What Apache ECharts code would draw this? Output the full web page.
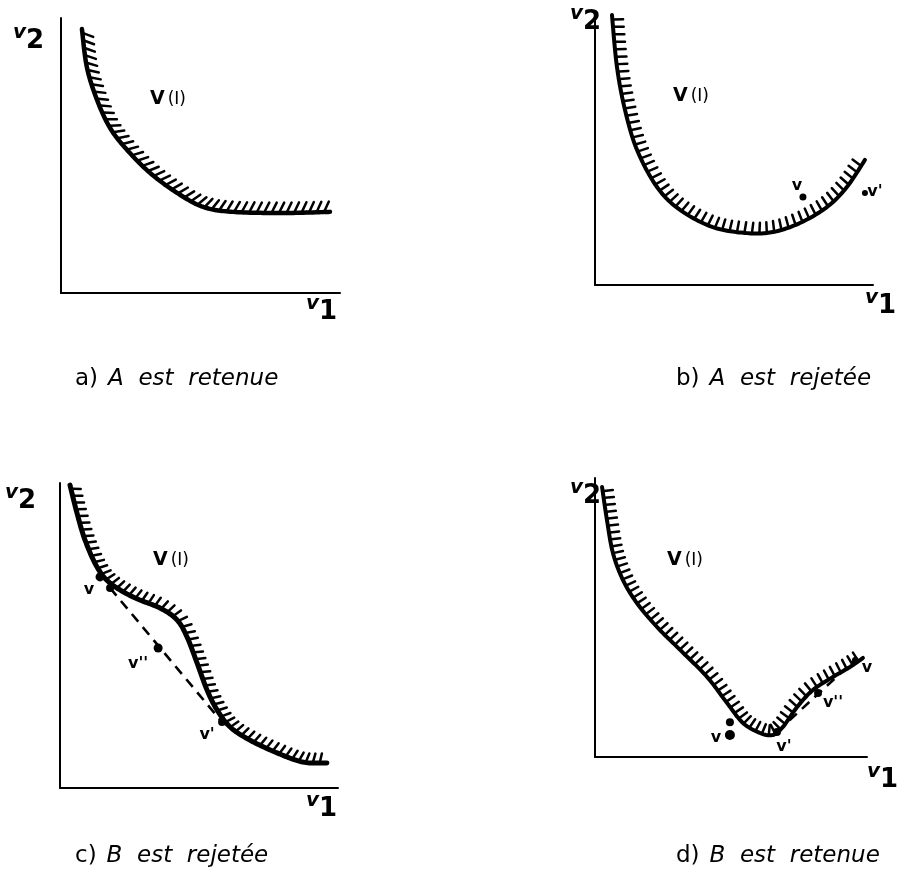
<!DOCTYPE html>
<html><head><meta charset="utf-8">
<script src="https://cdn.jsdelivr.net/npm/echarts@6/dist/echarts.min.js"></script>
<style>html,body{margin:0;padding:0;background:#fff}#c{width:898px;height:884px}</style>
</head><body><div id="c"></div><script>
// ---- data (axis units 0..100 on each panel) ----
const curveA = [[7.5,96],[9.3,82],[13,70],[17.6,60],[23.7,52],[32,43.6],[41.6,36.4],[51,31.3],[61.6,29.5],[79.6,29.1],[96.4,29.5]];
const curveB = [[6.1,98.9],[7.9,79.9],[10.8,64.1],[15.1,49.5],[22.3,35.9],[30.6,27.5],[42.4,21.2],[54.7,19.0],[64,19.4],[73.7,22.7],[83.5,28.6],[90.6,35.9],[97.1,45.8]];
const curveC = [[3.6,99.3],[6.1,90.2],[9,81.3],[13.3,72.5],[18,67.2],[26.3,62.6],[36,59],[42.1,55.1],[45.7,49.5],[49.3,41],[52.9,32.1],[56.5,25.6],[61.2,20],[68.3,15.7],[78.1,11.5],[87.4,8.5],[96,8.2]];
const curveD = [[2.6,96.8],[4.4,84.9],[6.6,73.1],[10.3,63.4],[15.4,55.2],[22.8,46.6],[31.3,38.4],[41.2,28.7],[48.5,19.4],[54.4,12.2],[60.7,8.6],[65.4,7.9],[69.1,10.8],[74.3,17.9],[80.1,24],[87.5,28.7],[93.8,32.3],[98.5,35.5]];

const pointsB = [[74.8,32.2],[97.1,33.7]];
const namesB = ['v', 'v\''];
const pointsC = [[14.4,69.2],[18.0,65.6],[35.3,45.9],[58.3,21.6]];
const namesC = ['v', '', 'v\'\'', 'v\''];
const dashC = [[18.0,65.6],[58.3,21.6]];
const pointsD = [[49.6,12.5],[49.6,7.9],[66.9,9.0],[82.0,22.9],[95.6,34.8]];
const namesD = ['', 'v', 'v\'', 'v\'\'', 'v'];
const dashD = [[66.9,9.0],[95.6,34.8]];

const captions = ['a) A est retenue', 'b) A est rejetée', 'c) B est rejetée', 'd) B est retenue'];
const regionLabel = ['V', '(I)'];

// ---- layout / style ----
const grids = [
  {left:61, top:18, width:279, height:275},
  {left:595, top:12, width:278, height:273},
  {left:60, top:483, width:278, height:305},
  {left:595, top:478, width:272, height:279}
];
const hatchStyle = [
  {spacing:7.5, len:9, slant:0.5, lw:4.5},
  {spacing:7.5, len:9.5, slant:0.08, lw:4},
  {spacing:7, len:8, slant:0.25, lw:5},
  {spacing:7, len:9, slant:0.05, lw:4}
];
const labelOffB = [[-6,-11],[10,-1]];
const labelOffC = [[-11,13],[0,0],[-20,16],[-15,13]];
const labelOffD = [[0,0],[-14,3],[7,15],[15,10],[12,8]];
const symSizeB = [7,6];
const symSizeC = [9,8,9,8];
const symSizeD = [8,10,8,8,6];

function catmull(pts, n) {
  const out = [];
  for (let i = 0; i < pts.length - 1; i++) {
    const p0 = pts[Math.max(i-1,0)], p1 = pts[i], p2 = pts[i+1], p3 = pts[Math.min(i+2, pts.length-1)];
    for (let s = 0; s < n; s++) {
      const t = s/n, t2 = t*t, t3 = t2*t;
      const f = k => 0.5*((2*p1[k]) + (-p0[k]+p2[k])*t + (2*p0[k]-5*p1[k]+4*p2[k]-p3[k])*t2 + (-p0[k]+3*p1[k]-3*p2[k]+p3[k])*t3);
      out.push([f(0), f(1)]);
    }
  }
  out.push(pts[pts.length-1].slice());
  return out;
}

function makeRender(curve, hs) {
  return function(params, api) {
    if (params.dataIndex !== 0) return null;
    const px = curve.map(p => api.coord(p));
    const poly = catmull(px, 16);
    const children = [];
    const cum = [0];
    for (let i = 1; i < poly.length; i++) {
      cum.push(cum[i-1] + Math.hypot(poly[i][0]-poly[i-1][0], poly[i][1]-poly[i-1][1]));
    }
    const total = cum[cum.length-1];
    let seg = 1;
    for (let d = hs.spacing*0.6; d < total - 2; d += hs.spacing) {
      while (seg < poly.length-1 && cum[seg] < d) seg++;
      const a = poly[seg-1], b = poly[seg];
      const L = cum[seg]-cum[seg-1] || 1;
      const r = (d - cum[seg-1]) / L;
      const p = [a[0] + (b[0]-a[0])*r, a[1] + (b[1]-a[1])*r];
      const t = [(b[0]-a[0])/L, (b[1]-a[1])/L];
      const n = [t[1], -t[0]];
      const o = hs.lw*0.3;
      children.push({type:'line', shape:{
        x1: p[0] + n[0]*o, y1: p[1] + n[1]*o,
        x2: p[0] + n[0]*(o+hs.len) + t[0]*hs.slant*hs.len,
        y2: p[1] + n[1]*(o+hs.len) + t[1]*hs.slant*hs.len
      }, style:{stroke:'#000', lineWidth:2.5, lineCap:'round'}});
    }
    children.push({type:'polyline', shape:{points:poly}, style:{stroke:'#000', fill:null, lineWidth:hs.lw, lineCap:'round', lineJoin:'round'}});
    return {type:'group', children};
  };
}

const curves = [curveA, curveB, curveC, curveD];
const xAxes = [], yAxes = [], series = [];
grids.forEach((g, i) => {
  xAxes.push({type:'value', gridIndex:i, min:0, max:100, axisLine:{show:true, lineStyle:{color:'#000', width:2}}, axisTick:{show:false}, axisLabel:{show:false}, splitLine:{show:false}});
  yAxes.push({type:'value', gridIndex:i, min:0, max:100, axisLine:{show:true, lineStyle:{color:'#000', width:2}}, axisTick:{show:false}, axisLabel:{show:false}, splitLine:{show:false}});
  series.push({type:'custom', xAxisIndex:i, yAxisIndex:i, data:curves[i], encode:{x:0, y:1}, renderItem:makeRender(curves[i], hatchStyle[i]), silent:true, animation:false, clip:false});
});

function dashed(idx, data) {
  return {type:'line', xAxisIndex:idx, yAxisIndex:idx, data, symbol:'none', silent:true, animation:false,
    lineStyle:{color:'#000', width:2.6, type:[10,7]}};
}
function pts(idx, data, names, offs, sizes) {
  return {type:'scatter', xAxisIndex:idx, yAxisIndex:idx, silent:true, animation:false,
    itemStyle:{color:'#000', opacity:1},
    label:{show:true, position:'inside', color:'#000', fontFamily:'DejaVu Sans', fontWeight:'bold', fontSize:16},
    data: data.map((v, k) => ({value:v, symbolSize:sizes[k],
      label:{show: names[k] !== '', formatter: names[k], offset:offs[k], fontSize:16}}))};
}
series.push(dashed(2, dashC), dashed(3, dashD));
series.push(pts(1, pointsB, namesB, labelOffB, symSizeB));
series.push(pts(2, pointsC, namesC, labelOffC, symSizeC));
series.push(pts(3, pointsD, namesD, labelOffD, symSizeD));

// ---- text graphics ----
const graphic = [];
function axisName(x, y, digit) {
  graphic.push({type:'text', x:x, y:y, style:{text:'v', font:'italic bold 20px "DejaVu Sans"', fill:'#000'}});
  graphic.push({type:'text', x:x+13, y:y+5, style:{text:digit, font:'bold 26px "DejaVu Sans"', fill:'#000'}});
}
axisName(13, 23, '2'); axisName(570, 4, '2'); axisName(5, 483, '2'); axisName(570, 478, '2');
axisName(306, 294, '1'); axisName(865, 288, '1'); axisName(306, 791, '1'); axisName(867, 762, '1');

const vPos = [[150,90],[673,87],[153,551],[667,551]];
vPos.forEach(p => graphic.push({type:'text', x:p[0], y:p[1], style:{
  text:'{a|' + regionLabel[0] + '}{b|' + regionLabel[1] + '}',
  rich:{a:{fontFamily:'DejaVu Sans', fontWeight:'bold', fontSize:19, fill:'#000'},
        b:{fontFamily:'DejaVu Sans', fontSize:17, fill:'#000', padding:[0,0,0,3]}}}}));

const capPos = [[75,368],[676,368],[75,845],[676,845]];
captions.forEach((c, i) => {
  const head = c.slice(0, 2), rest = c.slice(3);
  graphic.push({type:'text', x:capPos[i][0], y:capPos[i][1], style:{
    text:'{h|' + head + '}{r|' + rest.split(' ').join('  ') + '}',
    rich:{h:{fontFamily:'DejaVu Sans', fontSize:23, fill:'#000', padding:[0,10,0,0]},
          r:{fontFamily:'DejaVu Sans', fontStyle:'italic', fontSize:23, fill:'#000'}}}});
});

const chart = echarts.init(document.getElementById('c'), null, {renderer:'canvas'});
chart.setOption({backgroundColor:'#fff', animation:false, grid:grids, xAxis:xAxes, yAxis:yAxes, series, graphic});
</script></body></html>
